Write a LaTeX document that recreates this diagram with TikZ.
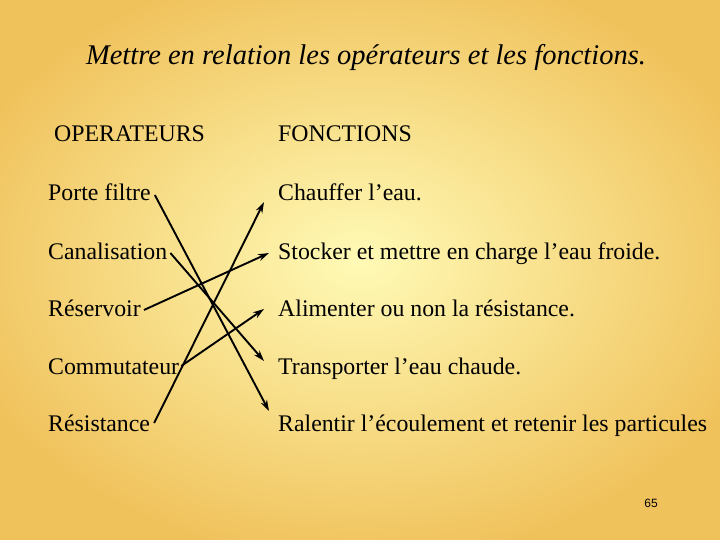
\documentclass[tikz,border=0pt]{standalone}
\usepackage{fontspec}
\setmainfont{Liberation Serif}
\setsansfont{Liberation Sans}
\usetikzlibrary{positioning,arrows.meta}
\definecolor{slidein}{RGB}{255,250,182}
\definecolor{slideout}{RGB}{240,194,92}

\begin{document}
\begin{tikzpicture}[
    x=1pt, y=-1pt,
    item/.style={anchor=west, inner sep=1pt, text height=20pt, text depth=4pt, font=\fontsize{23.8}{28}\selectfont},
    arrow/.style={-{Stealth[length=11pt,width=7pt]}, line width=1.9pt}
]
% background
\useasboundingbox (0,0) rectangle (720,540);
\begin{scope}
\clip (0,0) rectangle (720,540);
\shade[inner color=slidein, outer color=slideout] (-60,-40) rectangle (780,560);
\end{scope}

\node[font=\itshape\fontsize{28.5}{33}\selectfont] (title) at (366,58) {Mettre en relation les opérateurs et les fonctions.};

\node[item] (hop) at (53,134) {OPERATEURS};
\node[item] (hfn) at (277,134) {FONCTIONS};

% operateurs
\node[item] (porte) at (47,193) {Porte filtre};
\node[item] (canal) at (47,251) {Canalisation};
\node[item] (reserv) at (47,308) {Réservoir};
\node[item] (commut) at (47,366) {Commutateur};
\node[item] (resist) at (47,423) {Résistance};

% fonctions
\node[item] (chauf) at (277,193) {Chauffer l’eau.};
\node[item] (stock) at (277,251) {Stocker et mettre en charge l’eau froide.};
\node[item] (alim) at (277,308) {Alimenter ou non la résistance.};
\node[item] (transp) at (277,366) {Transporter l’eau chaude.};
\node[item] (ralent) at (277,423) {Ralentir l’écoulement et retenir les particules};

\node[font=\sffamily\fontsize{12}{14}\selectfont] (page) at (651,503) {65};

\draw[arrow] ([xshift=3pt,yshift=-2pt]porte.east) -- ([xshift=-8pt,yshift=12pt]ralent.west);
\draw[arrow] ([xshift=2pt,yshift=-2pt]canal.east) -- ([xshift=-13pt,yshift=5pt]transp.west);
\draw[arrow] ([xshift=2pt,yshift=-2pt]reserv.east) -- ([xshift=-8pt,yshift=-2pt]stock.west);
\draw[arrow] ([xshift=1pt,yshift=0pt]commut.east) -- ([xshift=-13pt,yshift=-1pt]alim.west);
\draw[arrow] ([xshift=3pt,yshift=0pt]resist.east) -- ([xshift=-13pt,yshift=-9pt]chauf.west);
\end{tikzpicture}
\end{document}
